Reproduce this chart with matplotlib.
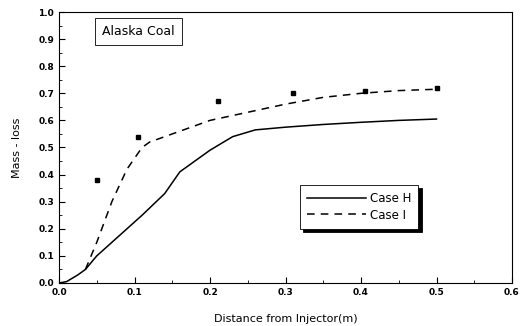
import matplotlib
matplotlib.use("Agg")
import matplotlib.pyplot as plt
from matplotlib.ticker import MultipleLocator

# Data
case_h_x = [0.0, 0.01, 0.025, 0.035, 0.05, 0.07, 0.09, 0.11, 0.14, 0.16, 0.18, 0.2, 0.23, 0.26, 0.3, 0.35, 0.4, 0.45, 0.5]
case_h_y = [0.0, 0.005, 0.03, 0.05, 0.1, 0.15, 0.2, 0.25, 0.33, 0.41, 0.45, 0.49, 0.54, 0.565, 0.575, 0.585, 0.593, 0.6, 0.605]
case_i_x = [0.035, 0.05, 0.07, 0.09, 0.11, 0.12, 0.15, 0.2, 0.25, 0.3, 0.35, 0.4, 0.45, 0.5]
case_i_y = [0.05, 0.15, 0.3, 0.42, 0.5, 0.52, 0.55, 0.6, 0.63, 0.66, 0.685, 0.70, 0.71, 0.715]
exp_x = [0.05, 0.105, 0.21, 0.31, 0.405, 0.5]
exp_y = [0.38, 0.54, 0.67, 0.70, 0.71, 0.72]

plt.rcParams['font.family'] = ['DejaVu Sans']
fig = plt.figure(figsize=(5.2, 3.26), dpi=100)
ax = fig.add_axes([59/520, 1-283/326, (512-59)/520, (283-12)/326])

ax.plot(case_h_x, case_h_y, color='black', lw=1.1, label='Case H')
ax.plot(case_i_x, case_i_y, color='black', lw=1.1, ls=(0, (5, 4)), label='Case I')
ax.plot(exp_x, exp_y, 's', color='black', ms=3.5, ls='none')

ax.set_xlim(0, 0.6)
ax.set_ylim(0, 1.0)
ax.xaxis.set_major_locator(MultipleLocator(0.1))
ax.xaxis.set_minor_locator(MultipleLocator(0.05))
ax.yaxis.set_major_locator(MultipleLocator(0.1))
ax.yaxis.set_minor_locator(MultipleLocator(0.05))
ax.tick_params(which='both', direction='in', labelsize=6.5)
ax.tick_params(which='major', length=4)
ax.tick_params(which='minor', length=2)
ax.set_xticklabels([f"{v:.1f}" for v in ax.get_xticks()])
ax.set_yticklabels([f"{v:.1f}" for v in ax.get_yticks()])
for lab in ax.get_xticklabels() + ax.get_yticklabels():
    lab.set_fontweight('bold')

ax.set_xlabel('Distance from Injector(m)', fontsize=8, labelpad=12)
ax.set_ylabel('Mass - loss', fontsize=8, labelpad=12)

ax.text(0.095, 0.915, 'Alaska Coal', transform=ax.transAxes, fontsize=9,
        bbox=dict(boxstyle='square,pad=0.55', fc='white', ec='black', lw=0.6))

leg = ax.legend(loc='upper left', bbox_to_anchor=(0.532, 0.362), fontsize=8.5,
                frameon=True, fancybox=False,
                shadow={'color': 'black', 'alpha': 1.0, 'ox': 2.5, 'oy': -2.5},
                handlelength=5.0, handletextpad=0.3,
                borderpad=0.6, labelspacing=0.3, borderaxespad=0)
leg.get_frame().set_edgecolor('black')
leg.get_frame().set_linewidth(0.6)

fig.savefig('out.png', dpi=100)
